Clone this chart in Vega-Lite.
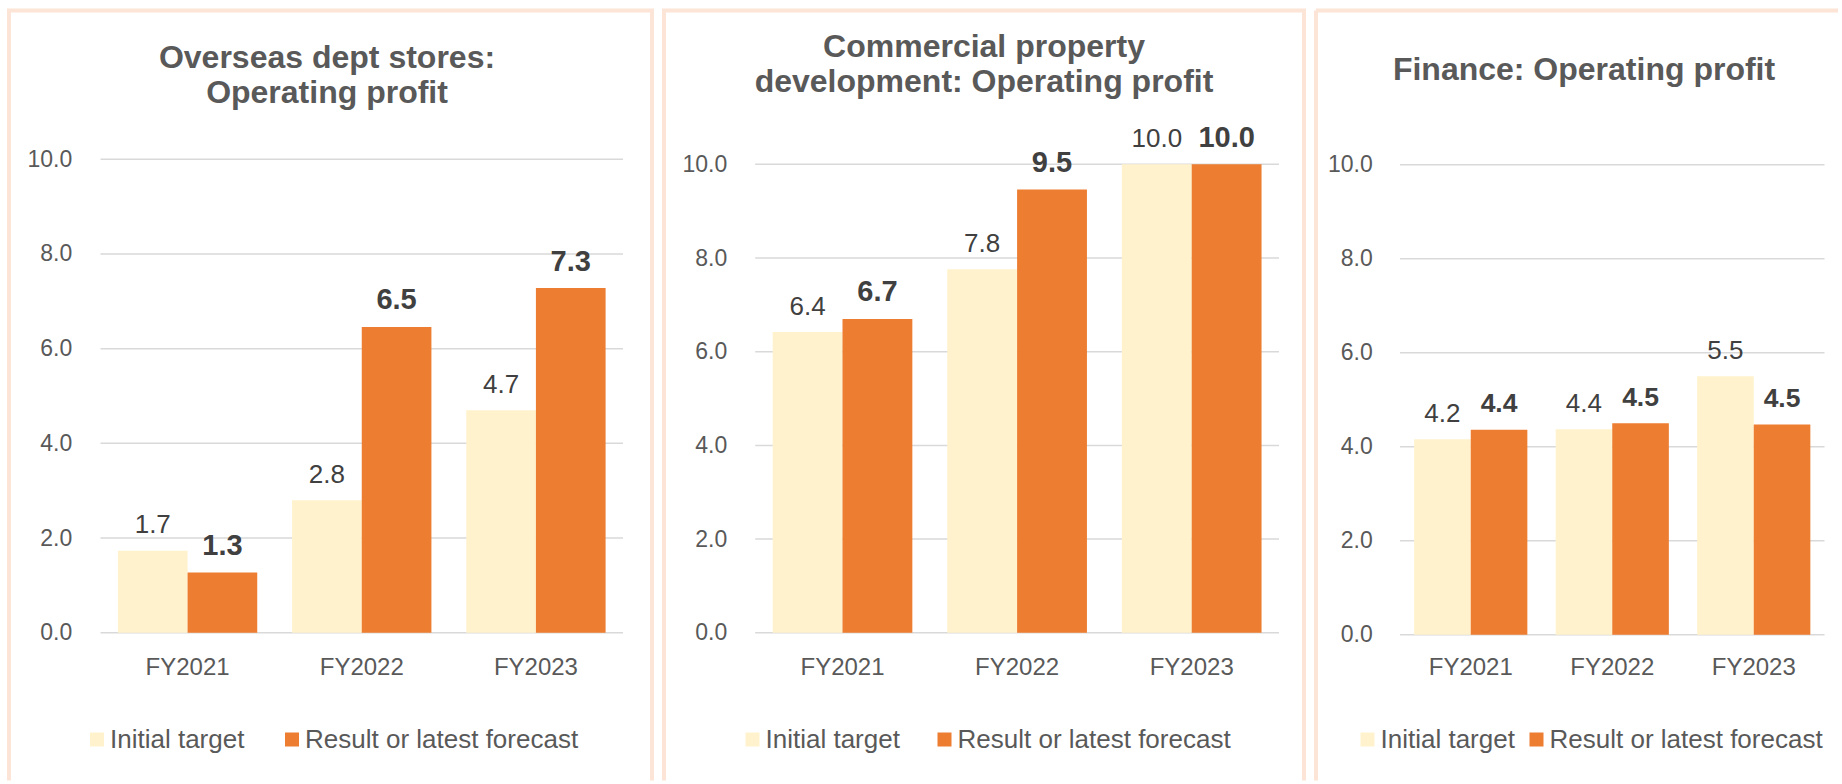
{
  "$schema": "https://vega.github.io/schema/vega-lite/v6.json",
  "background": "white",
  "padding": {"left": 7, "top": 8.5, "right": 0, "bottom": 0},
  "bounds": "flush",
  "spacing": 12,
  "config": {
    "font": "Liberation Sans",
    "view": {"stroke": "#FCE4D6", "strokeWidth": 4}
  },
  "datasets": {
    "p1": [
      {"year": "FY2021", "series": "Initial target", "value": 1.73},
      {"year": "FY2021", "series": "Result or latest forecast", "value": 1.27},
      {"year": "FY2022", "series": "Initial target", "value": 2.8},
      {"year": "FY2022", "series": "Result or latest forecast", "value": 6.46},
      {"year": "FY2023", "series": "Initial target", "value": 4.7},
      {"year": "FY2023", "series": "Result or latest forecast", "value": 7.28}
    ],
    "p2": [
      {"year": "FY2021", "series": "Initial target", "value": 6.42},
      {"year": "FY2021", "series": "Result or latest forecast", "value": 6.7},
      {"year": "FY2022", "series": "Initial target", "value": 7.76},
      {"year": "FY2022", "series": "Result or latest forecast", "value": 9.46},
      {"year": "FY2023", "series": "Initial target", "value": 10.0},
      {"year": "FY2023", "series": "Result or latest forecast", "value": 10.0}
    ],
    "p3": [
      {"year": "FY2021", "series": "Initial target", "value": 4.16},
      {"year": "FY2021", "series": "Result or latest forecast", "value": 4.36},
      {"year": "FY2022", "series": "Initial target", "value": 4.37},
      {"year": "FY2022", "series": "Result or latest forecast", "value": 4.5},
      {"year": "FY2023", "series": "Initial target", "value": 5.5},
      {"year": "FY2023", "series": "Result or latest forecast", "value": 4.47}
    ],
    "grid": [
      {"value": 0, "from": 0, "to": 1},
      {"value": 2, "from": 0, "to": 1},
      {"value": 4, "from": 0, "to": 1},
      {"value": 6, "from": 0, "to": 1},
      {"value": 8, "from": 0, "to": 1},
      {"value": 10, "from": 0, "to": 1}
    ]
  },
  "resolve": {"scale": {"xOffset": "independent"}, "legend": {"color": "independent"}},
  "hconcat": [
    {
      "width": 643,
      "height": 770,
      "view": {"stroke": "#FCE4D6", "strokeWidth": 4, "strokeDash": [1413, 643]},
      "title": {"text": ["Overseas dept stores:", "Operating profit"], "fontSize": 32, "fontWeight": "bold", "color": "#595959", "lineHeight": 35, "anchor": "middle", "frame": "group", "baseline": "top", "offset": -99, "dx": -3.5},
      "layer": [
        {
          "data": {"name": "grid"},
          "mark": {"type": "rule", "color": "#D9D9D9", "strokeWidth": 1.5},
          "encoding": {
            "x": {"field": "from", "type": "quantitative", "scale": {"domain": [0, 1], "range": [91.5, 614], "nice": false, "zero": false}, "axis": null},
            "x2": {"field": "to"},
            "y": {"field": "value", "type": "quantitative", "scale": {"domain": [0, 10], "range": [622.2, 148.8], "nice": false}, "axis": {"title": null, "values": [0, 2, 4, 6, 8, 10], "format": ".1f", "grid": false, "domain": false, "ticks": false, "tickSize": 0, "labelPadding": 0, "labelFontSize": 23, "labelColor": "#595959", "offset": -62.7}}
          }
        },
        {
          "data": {"name": "p1"},
          "layer": [
            {
              "mark": {"type": "bar"},
              "encoding": {
                "x": {"field": "year", "type": "nominal", "scale": {"range": [91.5, 614], "paddingInner": 0, "paddingOuter": 0}, "axis": {"title": null, "labelAngle": 0, "domain": false, "ticks": false, "tickSize": 0, "labelPadding": 0, "labelFontSize": 24, "labelColor": "#595959", "labelBaseline": "middle", "offset": -113.5}},
                "xOffset": {"field": "series", "type": "nominal", "scale": {"paddingInner": 0, "paddingOuter": 0.25}},
                "y": {"field": "value", "type": "quantitative", "scale": {"domain": [0, 10], "range": [622.2, 148.8], "nice": false}, "axis": {"title": null, "values": [0, 2, 4, 6, 8, 10], "format": ".1f", "grid": false, "domain": false, "ticks": false, "tickSize": 0, "labelPadding": 0, "labelFontSize": 23, "labelColor": "#595959", "offset": -62.7}},
                "color": {"field": "series", "type": "nominal", "scale": {"domain": ["Initial target", "Result or latest forecast"], "range": ["#FFF2CC", "#ED7D31"]}, "legend": {"orient": "none", "legendX": 75, "legendY": 716, "direction": "horizontal", "title": null, "symbolType": "square", "symbolSize": 196, "symbolStrokeWidth": 0, "labelFontSize": 26, "labelColor": "#595959", "labelOffset": 0, "labelLimit": 500, "columnPadding": 34, "padding": 0}}
              }
            },
            {
              "transform": [{"filter": "datum.series == 'Initial target'"}],
              "mark": {"type": "text", "fontSize": 26, "color": "#404040", "dy": -17.5, "baseline": "alphabetic"},
              "encoding": {
                "x": {"field": "year", "type": "nominal"},
                "xOffset": {"field": "series", "type": "nominal"},
                "y": {"field": "value", "type": "quantitative"},
                "text": {"field": "value", "type": "quantitative", "format": ".1f"}
              }
            },
            {
              "transform": [{"filter": "datum.series != 'Initial target'"}],
              "mark": {"type": "text", "fontSize": 29, "fontWeight": "bold", "color": "#404040", "dy": -17.5, "baseline": "alphabetic"},
              "encoding": {
                "x": {"field": "year", "type": "nominal"},
                "xOffset": {"field": "series", "type": "nominal"},
                "y": {"field": "value", "type": "quantitative"},
                "text": {"field": "value", "type": "quantitative", "format": ".1f"}
              }
            }
          ]
        }
      ],
      "resolve": {"scale": {"x": "independent"}}
    },
    {
      "width": 640,
      "height": 770,
      "view": {"stroke": "#FCE4D6", "strokeWidth": 4, "strokeDash": [1410, 640]},
      "title": {"text": ["Commercial property", "development: Operating profit"], "fontSize": 32, "fontWeight": "bold", "color": "#595959", "lineHeight": 35, "anchor": "middle", "frame": "group", "baseline": "top", "offset": -88},
      "layer": [
        {
          "data": {"name": "grid"},
          "mark": {"type": "rule", "color": "#D9D9D9", "strokeWidth": 1.5},
          "encoding": {
            "x": {"field": "from", "type": "quantitative", "scale": {"domain": [0, 1], "range": [91.2, 615], "nice": false, "zero": false}, "axis": null},
            "x2": {"field": "to"},
            "y": {"field": "value", "type": "quantitative", "scale": {"domain": [0, 10], "range": [622.3, 153.8], "nice": false}, "axis": {"title": null, "values": [0, 2, 4, 6, 8, 10], "format": ".1f", "grid": false, "domain": false, "ticks": false, "tickSize": 0, "labelPadding": 0, "labelFontSize": 23, "labelColor": "#595959", "offset": -62.7}}
          }
        },
        {
          "data": {"name": "p2"},
          "layer": [
            {
              "mark": {"type": "bar"},
              "encoding": {
                "x": {"field": "year", "type": "nominal", "scale": {"range": [91.2, 615], "paddingInner": 0, "paddingOuter": 0}, "axis": {"title": null, "labelAngle": 0, "domain": false, "ticks": false, "tickSize": 0, "labelPadding": 0, "labelFontSize": 24, "labelColor": "#595959", "labelBaseline": "middle", "offset": -113.5}},
                "xOffset": {"field": "series", "type": "nominal", "scale": {"paddingInner": 0, "paddingOuter": 0.25}},
                "y": {"field": "value", "type": "quantitative", "scale": {"domain": [0, 10], "range": [622.3, 153.8], "nice": false}, "axis": {"title": null, "values": [0, 2, 4, 6, 8, 10], "format": ".1f", "grid": false, "domain": false, "ticks": false, "tickSize": 0, "labelPadding": 0, "labelFontSize": 23, "labelColor": "#595959", "offset": -62.7}},
                "color": {"field": "series", "type": "nominal", "scale": {"domain": ["Initial target", "Result or latest forecast"], "range": ["#FFF2CC", "#ED7D31"]}, "legend": {"orient": "none", "legendX": 75.5, "legendY": 716, "direction": "horizontal", "title": null, "symbolType": "square", "symbolSize": 196, "symbolStrokeWidth": 0, "labelFontSize": 26, "labelColor": "#595959", "labelOffset": 0, "labelLimit": 500, "columnPadding": 31, "padding": 0}}
              }
            },
            {
              "transform": [{"filter": "datum.series == 'Initial target'"}],
              "mark": {"type": "text", "fontSize": 26, "color": "#404040", "dy": -17.5, "baseline": "alphabetic"},
              "encoding": {
                "x": {"field": "year", "type": "nominal"},
                "xOffset": {"field": "series", "type": "nominal"},
                "y": {"field": "value", "type": "quantitative"},
                "text": {"field": "value", "type": "quantitative", "format": ".1f"}
              }
            },
            {
              "transform": [{"filter": "datum.series != 'Initial target'"}],
              "mark": {"type": "text", "fontSize": 29, "fontWeight": "bold", "color": "#404040", "dy": -17.5, "baseline": "alphabetic"},
              "encoding": {
                "x": {"field": "year", "type": "nominal"},
                "xOffset": {"field": "series", "type": "nominal"},
                "y": {"field": "value", "type": "quantitative"},
                "text": {"field": "value", "type": "quantitative", "format": ".1f"}
              }
            }
          ]
        }
      ],
      "resolve": {"scale": {"x": "independent"}}
    },
    {
      "width": 522,
      "height": 770,
      "view": {"stroke": "#FCE4D6", "strokeWidth": 4, "strokeDash": [522, 1292, 770, 0]},
      "title": {"text": "Finance: Operating profit", "fontSize": 32, "fontWeight": "bold", "color": "#595959", "anchor": "middle", "frame": "group", "baseline": "top", "offset": -76, "dx": 7},
      "layer": [
        {
          "data": {"name": "grid"},
          "mark": {"type": "rule", "color": "#D9D9D9", "strokeWidth": 1.5},
          "encoding": {
            "x": {"field": "from", "type": "quantitative", "scale": {"domain": [0, 1], "range": [84, 508.5], "nice": false, "zero": false}, "axis": null},
            "x2": {"field": "to"},
            "y": {"field": "value", "type": "quantitative", "scale": {"domain": [0, 10], "range": [624.2, 154.2], "nice": false}, "axis": {"title": null, "values": [0, 2, 4, 6, 8, 10], "format": ".1f", "grid": false, "domain": false, "ticks": false, "tickSize": 0, "labelPadding": 0, "labelFontSize": 23, "labelColor": "#595959", "offset": -56.3}}
          }
        },
        {
          "data": {"name": "p3"},
          "layer": [
            {
              "mark": {"type": "bar"},
              "encoding": {
                "x": {"field": "year", "type": "nominal", "scale": {"range": [84, 508.5], "paddingInner": 0, "paddingOuter": 0}, "axis": {"title": null, "labelAngle": 0, "domain": false, "ticks": false, "tickSize": 0, "labelPadding": 0, "labelFontSize": 24, "labelColor": "#595959", "labelBaseline": "middle", "offset": -113.5}},
                "xOffset": {"field": "series", "type": "nominal", "scale": {"paddingInner": 0, "paddingOuter": 0.25}},
                "y": {"field": "value", "type": "quantitative", "scale": {"domain": [0, 10], "range": [624.2, 154.2], "nice": false}, "axis": {"title": null, "values": [0, 2, 4, 6, 8, 10], "format": ".1f", "grid": false, "domain": false, "ticks": false, "tickSize": 0, "labelPadding": 0, "labelFontSize": 23, "labelColor": "#595959", "offset": -56.3}},
                "color": {"field": "series", "type": "nominal", "scale": {"domain": ["Initial target", "Result or latest forecast"], "range": ["#FFF2CC", "#ED7D31"]}, "legend": {"orient": "none", "legendX": 38.5, "legendY": 716, "direction": "horizontal", "title": null, "symbolType": "square", "symbolSize": 196, "symbolStrokeWidth": 0, "labelFontSize": 26, "labelColor": "#595959", "labelOffset": 0, "labelLimit": 500, "columnPadding": 8, "padding": 0}}
              }
            },
            {
              "transform": [{"filter": "datum.series == 'Initial target'"}],
              "mark": {"type": "text", "fontSize": 26, "color": "#404040", "dy": -17.5, "baseline": "alphabetic"},
              "encoding": {
                "x": {"field": "year", "type": "nominal"},
                "xOffset": {"field": "series", "type": "nominal"},
                "y": {"field": "value", "type": "quantitative"},
                "text": {"field": "value", "type": "quantitative", "format": ".1f"}
              }
            },
            {
              "transform": [{"filter": "datum.series != 'Initial target'"}],
              "mark": {"type": "text", "fontSize": 26.5, "fontWeight": "bold", "color": "#404040", "dy": -17.5, "baseline": "alphabetic"},
              "encoding": {
                "x": {"field": "year", "type": "nominal"},
                "xOffset": {"field": "series", "type": "nominal"},
                "y": {"field": "value", "type": "quantitative"},
                "text": {"field": "value", "type": "quantitative", "format": ".1f"}
              }
            }
          ]
        }
      ],
      "resolve": {"scale": {"x": "independent"}}
    }
  ]
}
